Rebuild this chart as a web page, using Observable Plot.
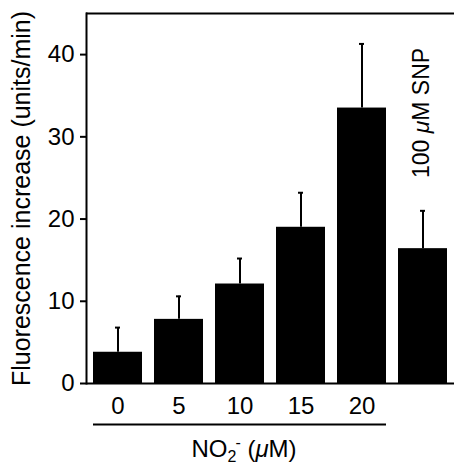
<!DOCTYPE html>
<html>
<head>
<meta charset="utf-8">
<script src="https://cdn.jsdelivr.net/npm/d3@7"></script>
<script src="https://cdn.jsdelivr.net/npm/@observablehq/plot@0.6"></script>
<style>
  html, body { margin: 0; padding: 0; background: #fff; }
  svg { display: block; }
</style>
</head>
<body>
<div id="chart"></div>
<script>
const categories = ["0", "5", "10", "15", "20", "SNP"];
const means = [3.8, 7.8, 12.1, 19.0, 33.5, 16.4];
const errors = [3.0, 2.8, 3.1, 4.2, 7.8, 4.6];
const xTickLabels = ["0", "5", "10", "15", "20"];
const yTicks = [0, 10, 20, 30, 40];
const yLabel = "Fluorescence increase (units/min)";
const xLabel = "NO2- (μM)";
const snpLabel = "100 μM SNP";

const data = categories.map((c, i) => ({cat: c, mean: means[i], top: means[i] + errors[i]}));
const font = "'Liberation Sans', Arial, Helvetica, sans-serif";

const chart = Plot.plot({
  width: 454,
  height: 466,
  marginLeft: 86,
  marginRight: 0,
  marginTop: 13,
  marginBottom: 83,
  style: {fontFamily: font, fontSize: "24px", color: "#000", background: "#fff"},
  x: {domain: categories, paddingInner: 0.2, paddingOuter: 0.1, axis: null},
  y: {domain: [0, 45], axis: null},
  marks: [
    Plot.barY(data, {x: "cat", y: "mean", fill: "#000"}),
    Plot.ruleX(data, {x: "cat", y1: "mean", y2: "top", stroke: "#000", strokeWidth: 2}),
    Plot.tickY(data, {x: "cat", y: "top", stroke: "#000", strokeWidth: 2, insetLeft: 22, insetRight: 22}),
    Plot.frame({anchor: "left", stroke: "#000", strokeWidth: 2}),
    Plot.ruleY([0], {stroke: "#000", strokeWidth: 2}),
    Plot.ruleY([45], {stroke: "#000", strokeWidth: 2}),
    Plot.axisY({ticks: yTicks, tickSize: 6, tickPadding: 6, tickFormat: d => String(d), label: null, fontSize: 24, strokeWidth: 2}),
    Plot.text([yLabel], {frameAnchor: "left", textAnchor: "middle", dx: -65, rotate: -90, fontSize: 25, text: d => d, fill: "#000"}),
    Plot.axisX({ticks: xTickLabels, tickSize: 0, tickPadding: 13, label: null, fontSize: 24}),
    Plot.ruleY([-5], {x1: () => "0", x2: () => "20", stroke: "#000", strokeWidth: 2}),
    Plot.text([xLabel], {x: () => "10", y: () => -8.05, dx: 4, text: d => d, fontSize: 24, fill: "#000", className: "xlabel"}),
    Plot.text([snpLabel], {x: () => "SNP", y: () => 32.9, dx: -1, text: d => d, rotate: -90, fontSize: 23, fill: "#000", className: "snplabel"})
  ]
});

document.getElementById("chart").appendChild(chart);

// Rich text: italic mu, subscript/superscript
function richify(selector, parts) {
  d3.select(chart).selectAll(selector + " text").each(function() {
    const t = d3.select(this);
    t.text(null);
    parts.forEach(p => {
      const s = t.append("tspan").text(p.text);
      if (p.italic) s.attr("font-style", "italic");
      if (p.size) s.attr("font-size", p.size);
      if (p.dy) s.attr("dy", p.dy);
      if (p.dx) s.attr("dx", p.dx);
    });
  });
}
richify(".snplabel", [{text: "100 "}, {text: "μ", italic: true}, {text: "M SNP"}]);
richify(".xlabel", [
  {text: "NO"},
  {text: "2", size: 16, dy: 5},
  {text: "-", size: 16, dy: -14, dx: -1},
  {text: " (", dy: 9},
  {text: "μ", italic: true},
  {text: "M)"}
]);
</script>
</body>
</html>
